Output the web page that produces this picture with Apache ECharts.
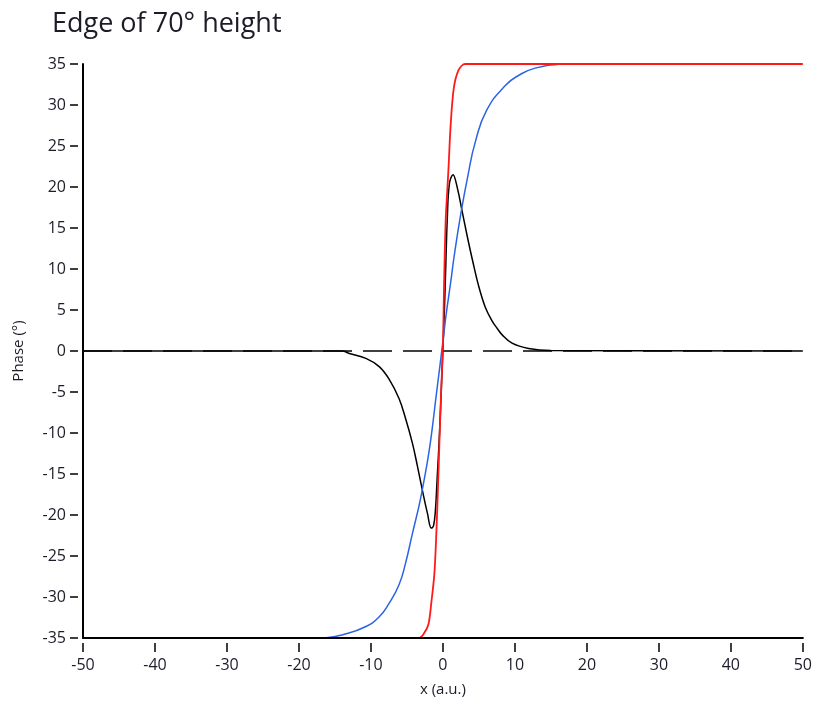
<!DOCTYPE html>
<html>
<head>
<meta charset="utf-8">
<script src="https://cdn.jsdelivr.net/npm/echarts@6/dist/echarts.min.js"></script>
<style>
html,body{margin:0;padding:0;background:#fff;}
#chart{width:815px;height:704px;}
</style>
</head>
<body>
<div id="chart"></div>
<script>
// ---- data (x in a.u., y = phase in degrees) ----
var titleText = 'Edge of 70\u00b0 height';
var xName = 'x (a.u.)';
var yName = 'Phase (\u00b0)';
var xRange = [-50, 50, 10];
var yRange = [-35, 35, 5];

var zeroLine = [[-50, 0], [50, 0]];

var blackData = [
  [-50, 0], [-14, 0], [-13, -0.3], [-10.7, -0.9], [-8.85, -1.9], [-7.5, -3.4],
  [-6.1, -5.8], [-5.2, -8.2], [-4.25, -11.2], [-3.55, -14.0], [-2.85, -17],
  [-2.15, -19.8], [-1.6, -21.6], [-1.3, -21.3], [-1.05, -19.5], [-0.8, -15.5],
  [-0.5, -10.5], [-0.15, -3], [0.2, 4.8], [0.4, 10.5], [0.6, 16], [0.9, 20.4],
  [1.4, 21.5], [2, 19.9], [2.7, 16.9], [3.4, 13.9], [4.1, 11.1], [5, 7.8],
  [5.9, 5.3], [6.8, 3.7], [7.5, 2.8], [8.2, 2.0], [9.6, 0.95], [11.9, 0.3],
  [15, 0.05], [50, 0]
];

var blueData = [
  [-16.5, -35], [-13.9, -34.6], [-10.7, -33.6], [-8.85, -32.4], [-7.5, -30.8],
  [-6.1, -28.5], [-5.2, -25.9], [-4.25, -22.3], [-3.3, -18.8], [-2.8, -16.6],
  [-2.4, -14.7], [-1.9, -12.1], [-1.45, -9.2], [-1, -5.9], [-0.5, -2.4], [0, 1.2],
  [0.5, 4.8], [1.05, 8.2], [1.6, 11.8], [2.5, 16.8], [3.45, 21.3], [4.5, 25.5],
  [6.1, 29.4], [8.7, 32.4], [10.5, 33.6], [12.8, 34.5], [16.5, 35]
];

var redData = [
  [-50, -35], [-3.3, -35], [-2.6, -34.4], [-2.0, -33.3], [-1.6, -30.6],
  [-1.2, -27.3], [-0.95, -23], [-0.72, -17.5], [-0.5, -11.5], [-0.25, -5],
  [0, 0.5], [0.15, 7.7], [0.37, 15.7], [0.6, 19.5], [0.8, 22.7], [1.05, 27.2],
  [1.5, 32], [2.2, 34.3], [3.1, 35], [50, 35]
];

var FONT = '"Open Sans", "Noto Sans", sans-serif';
var TXT = '#1c1c28';

var chart = echarts.init(document.getElementById('chart'), null, {renderer: 'canvas'});

function baseX(extra) {
  return Object.assign({
    type: 'value', min: xRange[0], max: xRange[1], interval: xRange[2],
    splitLine: {show: false}
  }, extra);
}
function baseY(extra) {
  return Object.assign({
    type: 'value', min: yRange[0], max: yRange[1], interval: yRange[2],
    splitLine: {show: false}
  }, extra);
}

var option = {
  backgroundColor: '#fff',
  animation: false,
  title: {
    text: titleText, left: 47, top: 6,
    textStyle: {fontFamily: FONT, fontSize: 27, fontWeight: 'normal', color: TXT}
  },
  grid: {left: 83, right: 9, top: 64, bottom: 66, containLabel: false},
  xAxis: [
    baseX({
      position: 'bottom', z: 10,
      axisLine: {show: true, onZero: false, lineStyle: {color: '#000', width: 2}},
      axisTick: {show: false}, axisLabel: {show: false}
    }),
    baseX({
      position: 'bottom', offset: 5,
      axisLine: {show: false, onZero: false},
      axisTick: {show: true, length: 9, lineStyle: {color: '#000', width: 1.5}},
      axisLabel: {show: true, margin: 14, fontFamily: FONT, fontSize: 16, color: TXT},
      name: xName, nameLocation: 'middle', nameGap: 39,
      nameTextStyle: {fontFamily: FONT, fontSize: 15, color: TXT}
    })
  ],
  yAxis: [
    baseY({
      position: 'left', z: 10,
      axisLine: {show: true, onZero: false, lineStyle: {color: '#000', width: 2}},
      axisTick: {show: false}, axisLabel: {show: false}
    }),
    baseY({
      position: 'left', offset: 5,
      axisLine: {show: false, onZero: false},
      axisTick: {show: true, length: 8, lineStyle: {color: '#000', width: 1.5}},
      axisLabel: {show: true, margin: 12, fontFamily: FONT, fontSize: 16, color: TXT},
      name: yName, nameLocation: 'middle', nameGap: 52, nameRotate: 90,
      nameTextStyle: {fontFamily: FONT, fontSize: 15, color: TXT}
    })
  ],
  series: [
    {
      name: 'zero', type: 'line', xAxisIndex: 0, yAxisIndex: 0, data: zeroLine,
      showSymbol: false, symbol: 'none', z: 2,
      lineStyle: {color: '#404040', width: 2, type: [29, 11]}
    },
    {
      name: 'black', type: 'line', xAxisIndex: 0, yAxisIndex: 0, data: blackData,
      showSymbol: false, symbol: 'none', z: 3, smooth: 0.4,
      lineStyle: {color: '#000', width: 1.5}
    },
    {
      name: 'blue', type: 'line', xAxisIndex: 0, yAxisIndex: 0, data: blueData,
      showSymbol: false, symbol: 'none', z: 4, smooth: 0.5,
      lineStyle: {color: '#2a64e6', width: 1.5}
    },
    {
      name: 'red', type: 'line', xAxisIndex: 0, yAxisIndex: 0, data: redData,
      showSymbol: false, symbol: 'none', z: 5, smooth: 0.3,
      lineStyle: {color: '#ff1a1a', width: 1.8}
    }
  ]
};
chart.setOption(option);
</script>
</body>
</html>
